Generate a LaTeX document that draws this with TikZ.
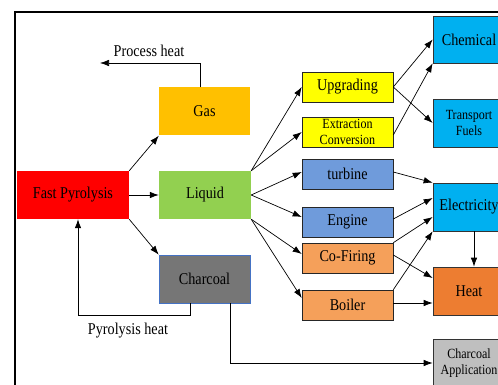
\documentclass[tikz,border=0pt]{standalone}
\usepackage{fontspec}
\setmainfont[FakeStretch=0.86]{Liberation Serif}
\usetikzlibrary{arrows.meta}
\definecolor{cred}{HTML}{FF0000}
\definecolor{cgas}{HTML}{FFC000}
\definecolor{cliq}{HTML}{92D050}
\definecolor{cchar}{HTML}{767676}
\definecolor{cbord}{HTML}{4472C4}
\definecolor{cyel}{HTML}{FFFF00}
\definecolor{cblu}{HTML}{6F9BDB}
\definecolor{cora}{HTML}{F5A05A}
\definecolor{ccya}{HTML}{00B0F0}
\definecolor{cheat}{HTML}{ED7D31}
\definecolor{capp}{HTML}{BFBFBF}
\begin{document}
\begin{tikzpicture}[x=1pt,y=-1pt,
  box/.style={rectangle, inner sep=0pt, align=center, font=\fontsize{16.5}{18}\selectfont},
  small/.style={font=\fontsize{14}{16}\selectfont},
  midbox/.style={box, minimum width=91pt, minimum height=30pt, draw=black!85, line width=0.6pt},
  rbox/.style={box, minimum width=72pt, minimum height=48pt, draw=black!80, line width=0.7pt},
  lbox/.style={box, minimum width=91pt, minimum height=48pt},
  arr/.style={-{Latex[length=9pt,width=6.5pt]}, line width=0.7pt},
  lbl/.style={font=\fontsize{16.5}{18}\selectfont, inner sep=0pt}]
\useasboundingbox (0,0) rectangle (498,385);
\clip (0,0) rectangle (498,385);
\fill[white] (0,0) rectangle (498,385);
\draw[line width=2pt] (14.5,400) -- (14.5,12.5) -- (510,12.5);

\node[lbox, fill=cred, minimum width=112pt] (fp) at (73,195) {Fast Pyrolysis};
\node[lbox, fill=cgas] (gas) at (204.5,111.5) {Gas};
\node[lbox, fill=cliq, minimum width=92pt] (liq) at (205,195) {Liquid};
\node[lbox, fill=cchar, draw=cbord, line width=0.6pt] (char) at (204.5,279) {Charcoal};

\node[midbox, fill=cyel] (upg) at (347.5,87) {Upgrading};
\node[midbox, fill=cyel, small] (ext) at (347.5,132) {Extraction\\Conversion};
\node[midbox, fill=cblu] (tur) at (347.5,174) {turbine};
\node[midbox, fill=cblu] (eng) at (347.5,222) {Engine};
\node[midbox, fill=cora] (cof) at (347.5,258) {Co-Firing};
\node[midbox, fill=cora] (boi) at (347.5,305) {Boiler};

\node[rbox, fill=ccya, minimum height=47pt] (chem) at (469,39.5) {Chemical};
\node[rbox, fill=ccya, small] (tf) at (469,123) {Transport\\Fuels};
\node[rbox, fill=ccya] (ele) at (469,207) {Electricity};
\node[rbox, fill=cheat] (heat) at (469,291) {Heat};
\node[rbox, fill=capp, small] (cap) at (469,363) {Charcoal\\Application};

\node[lbl] (phl) at (149,51) {Process heat};
\node[lbl] (pyl) at (128,331) {Pyrolysis heat};
\coordinate (ph) at (100,63);
\coordinate (pyc) at (78,315);

\draw[arr] (fp.north east) -- (gas.south west);
\draw[arr] (fp.east) -- (liq.west);
\draw[arr] (fp.south east) -- (char.north west);

\draw[arr] ([xshift=-4.5pt]gas.north) |- (ph);
\draw[arr] ([xshift=-14.5pt]char.south) |- (pyc) -- (pyc |- fp.south);
\draw[arr] ([xshift=25.5pt]char.south) |- (cap.west);

\draw[arr] (liq.north east) -- (upg.west);
\draw[arr] (liq.north east) -- (ext.west);
\draw[arr] (liq.east) -- ([yshift=2pt]tur.west);
\draw[arr] (liq.east) -- ([yshift=5pt]eng.west);
\draw[arr] (liq.south east) -- ([yshift=4pt]cof.west);
\draw[arr] (liq.south east) -- ([yshift=7pt]boi.west);

\draw[arr] (upg.east) -- (chem.west);
\draw[arr] (upg.east) -- (tf.west);
\draw[arr] ([yshift=-3pt]ext.east) -- (chem.south west);

\draw[arr] ([yshift=2pt]tur.east) -- (ele.north west);
\draw[arr] ([yshift=3pt]eng.east) -- ([yshift=9pt]ele.west);
\draw[arr] (cof.north east) -- ([yshift=-10pt]ele.west);
\draw[arr] ([yshift=3pt]cof.east) -- ([yshift=13pt]heat.west);
\draw[arr] (boi.north east) -- (ele.south west);
\draw[arr] ([yshift=2pt]boi.east) -- ([yshift=2pt]boi.east -| heat.west);
\draw[arr] ([xshift=5pt]ele.south) -- ([xshift=5pt]ele.south |- heat.north);
\end{tikzpicture}
\end{document}
